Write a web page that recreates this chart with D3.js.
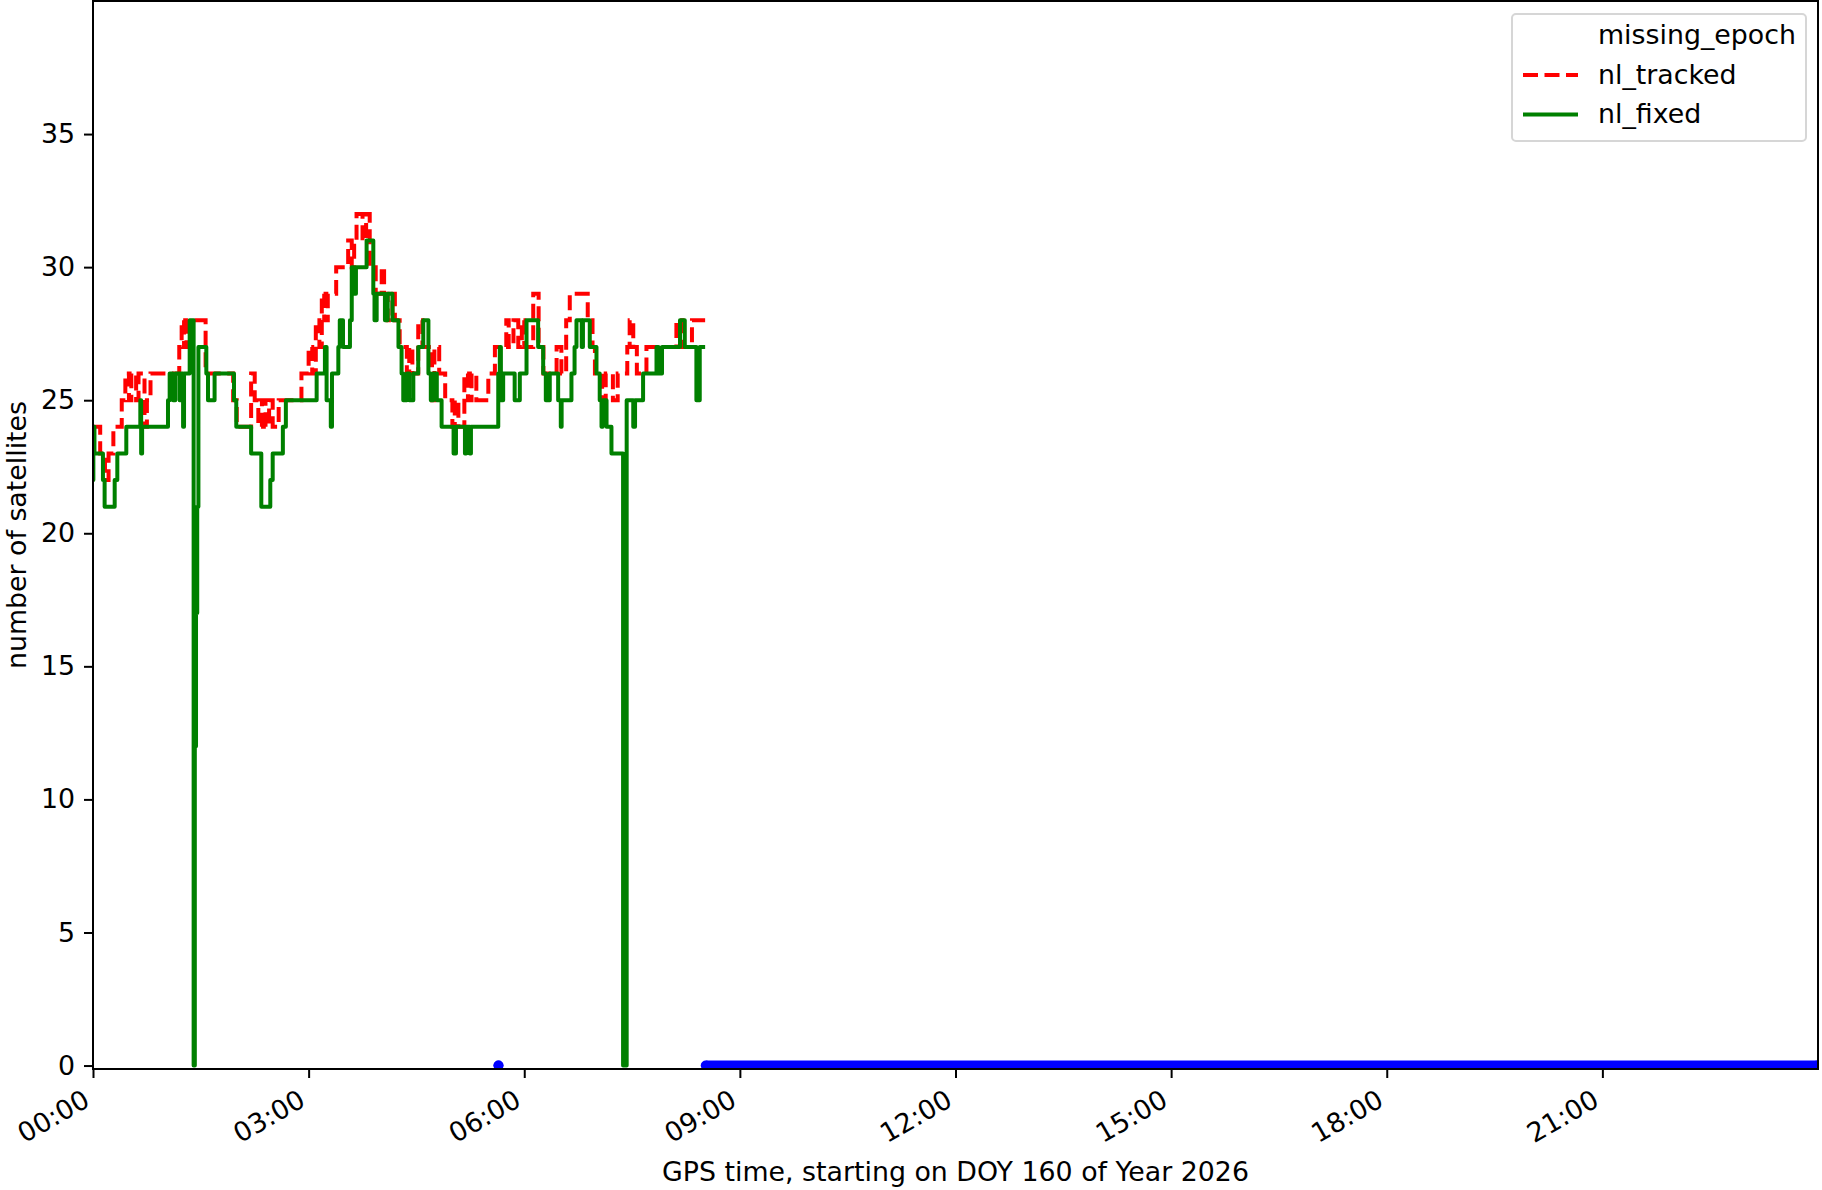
<!DOCTYPE html>
<html>
<head>
<meta charset="utf-8">
<script src="https://cdn.jsdelivr.net/npm/d3@7"></script>
<style>
  body { margin: 0; background: #fff; }
  text { font-family: "DejaVu Sans", sans-serif; }
</style>
</head>
<body>
<div id="chart"></div>
<script>
// GPS time in minutes after 00:00, DOY 160 of 2026 (step data, value holds until next point)
const trackedMin = [0, 6, 10, 13, 17, 24, 27, 30, 32, 36, 38, 43, 45, 48, 72, 74, 76, 78, 94, 117, 120, 132, 135, 138, 141, 144, 147, 150, 155,
  174, 180, 183, 186, 189, 191, 193, 196, 203, 213, 216, 218, 220, 225, 228, 231, 236, 241, 243, 246, 250, 252, 256, 262, 264, 266.6,
  271.5, 275, 283, 285, 289, 294, 300, 302, 305, 310, 313, 316, 320, 330, 335.5, 345, 347, 351, 355, 358, 360, 367.5, 372, 376, 387,
  391, 395, 398, 413, 417, 419, 425, 428, 434, 438, 446, 448, 451, 454, 462, 487, 492, 500, 511];
const trackedVal = [24, 23, 22, 23, 24, 25, 26, 25, 26, 25, 26, 24, 25, 26, 27, 28, 27, 28, 26, 25, 24, 26, 25, 24, 25, 24, 25, 24, 25,
  26, 27, 26, 28, 27, 29, 28, 29, 30, 31, 30, 31, 32, 31, 32, 30, 29, 30, 29, 28, 29, 28, 27, 26, 27, 26,
  28, 27, 25, 27, 26, 25, 24, 25, 24, 26, 25, 26, 25, 26, 27, 28, 27, 28, 27, 28, 27, 29, 27, 26, 27,
  26, 28, 29, 28, 27, 26, 25, 26, 25, 26, 27, 28, 27, 26, 27, 28, 27, 28, 28];

const fixedMin = [0, 0.3, 1.2, 8.3, 9.7, 18.1, 20.3, 27.8, 39.5, 40.2, 41, 62.6, 64, 66.8, 68.7, 72.3, 73.7, 75.2, 76, 80.7, 84, 85, 86, 87, 88,
  94.6, 96, 101.5, 117.7, 119.6, 132, 140.5, 148, 150, 158.5, 161, 186.7, 193.6, 195, 198.5, 199.5, 204.8, 206, 208.7, 214.5, 216, 218,
  219.5, 228.4, 234, 235, 236.8, 243.7, 246, 250, 255, 257.6, 259, 262, 264, 267.4, 271.5, 275.7, 280, 282, 284, 287, 291, 301, 303,
  310.5, 311.5, 314.5, 315.5, 338.3, 339.6, 340.5, 342.4, 352, 356.3, 361.9, 371.6, 375.8, 378, 381.3, 388.3, 390.5, 391.2, 399.4, 402,
  403.6, 408, 409, 414.7, 420.3, 423, 424.5, 425.5, 428.7, 432.8, 442.5, 445.5, 451, 452.5, 459.2, 470.4, 472, 475, 490, 494, 503.7, 506.5, 511];
const fixedVal = [22, 24, 23, 22, 21, 22, 23, 24, 25, 23, 24, 25, 26, 25, 26, 25, 26, 24, 26, 28, 0, 12, 17, 21, 27,
  26, 25, 26, 25, 24, 23, 21, 22, 23, 24, 25, 26, 27, 25, 24, 26, 27, 28, 27, 28, 30, 29,
  30, 31, 29, 28, 29, 28, 29, 28, 27, 26, 25, 26, 25, 26, 27, 28, 26, 25, 26, 25, 24, 23, 24,
  23, 24, 23, 24, 26, 27, 25, 26, 25, 26, 28, 27, 26, 25, 26, 25, 24, 25, 26, 27,
  28, 27, 28, 27, 26, 25, 24, 25, 24, 23, 0, 25, 24, 25, 26, 27, 26, 27, 28, 27, 25, 27, 27];

// missing epochs (minutes), drawn at 0 satellites
const missingFrom = [338.5, 511.5];
const missingTo = [338.5, 1439.5];

const xTickLabels = ["00:00", "03:00", "06:00", "09:00", "12:00", "15:00", "18:00", "21:00"];
const yTicks = [0, 5, 10, 15, 20, 25, 30, 35];
const legendLabels = ["missing_epoch", "nl_tracked", "nl_fixed"];

const W = 1822, H = 1190;
const margin = { top: 1, right: 4, bottom: 121, left: 93 };
const width = W - margin.left - margin.right;
const height = H - margin.top - margin.bottom;
const fontSize = 26.8;
const tickLen = 9;

const day0 = Date.UTC(2026, 5, 9);   // DOY 160 of 2026
const toDate = m => new Date(day0 + m * 60000);
const hm = s => { const [h, m] = s.split(':').map(Number); return h * 60 + m; };

const svg = d3.select('#chart').append('svg')
  .attr('width', W).attr('height', H);

const g = svg.append('g')
  .attr('transform', `translate(${margin.left},${margin.top})`);

const x = d3.scaleUtc()
  .domain([toDate(0), toDate(1440)])
  .range([0, width]);

const y = d3.scaleLinear()
  .domain([-0.13, 40])
  .range([height, 0]);

g.append('clipPath').attr('id', 'clip')
  .append('rect').attr('width', width).attr('height', height);

const plot = g.append('g').attr('clip-path', 'url(#clip)');

// missing epochs
const r = 5;
plot.selectAll('.miss-line')
  .data(missingFrom.map((f, i) => ({ f, t: missingTo[i] })))
  .enter().append('line')
  .attr('x1', d => x(toDate(d.f)))
  .attr('x2', d => x(toDate(d.t)))
  .attr('y1', y(0)).attr('y2', y(0))
  .attr('stroke', '#0000ff')
  .attr('stroke-width', 2 * r);
plot.selectAll('.miss-dot')
  .data(missingFrom.concat(missingTo))
  .enter().append('circle')
  .attr('cx', d => x(toDate(d)))
  .attr('cy', y(0))
  .attr('r', r)
  .attr('fill', '#0000ff');

const line = d3.line()
  .x(d => x(toDate(d.t)))
  .y(d => y(d.v))
  .curve(d3.curveStepAfter);

const tracked = trackedMin.map((t, i) => ({ t, v: trackedVal[i] }));
const fixed = fixedMin.map((t, i) => ({ t, v: fixedVal[i] }));

plot.append('path')
  .datum(tracked)
  .attr('d', line)
  .attr('fill', 'none')
  .attr('stroke', '#ff0000')
  .attr('stroke-width', 4)
  .attr('stroke-dasharray', '15,6.5');

plot.append('path')
  .datum(fixed)
  .attr('d', line)
  .attr('fill', 'none')
  .attr('stroke', '#008000')
  .attr('stroke-width', 4)
  .attr('stroke-linejoin', 'round');

// axes
const xAxis = g.append('g')
  .attr('transform', `translate(0,${height})`)
  .call(d3.axisBottom(x)
    .tickValues(xTickLabels.map(s => toDate(hm(s))))
    .tickFormat(d3.utcFormat('%H:%M'))
    .tickSize(tickLen).tickSizeOuter(0));
xAxis.selectAll('text')
  .attr('x', null).attr('y', null).attr('dy', null)
  .attr('text-anchor', 'end')
  .attr('transform', 'translate(-2,36) rotate(-30)')
  .style('font-size', fontSize + 'px')
  .style('fill', '#000');

const yAxis = g.append('g')
  .call(d3.axisLeft(y).tickValues(yTicks).tickSize(tickLen).tickPadding(9).tickSizeOuter(0));
yAxis.selectAll('text')
  .style('font-size', fontSize + 'px')
  .style('fill', '#000');

g.selectAll('.domain').remove();
g.selectAll('.tick line').attr('stroke', '#000').attr('stroke-width', 2);

// frame
g.append('rect')
  .attr('width', width).attr('height', height)
  .attr('fill', 'none')
  .attr('stroke', '#000')
  .attr('stroke-width', 2);

// axis labels
g.append('text')
  .attr('x', width / 2)
  .attr('y', height + 112)
  .attr('text-anchor', 'middle')
  .style('font-size', fontSize + 'px')
  .text('GPS time, starting on DOY 160 of Year 2026');

g.append('text')
  .attr('transform', `translate(${-67},${height / 2}) rotate(-90)`)
  .attr('text-anchor', 'middle')
  .style('font-size', fontSize + 'px')
  .text('number of satellites');

// legend
const lg = svg.append('g').attr('transform', 'translate(1512,14)');
lg.append('rect')
  .attr('width', 294).attr('height', 127)
  .attr('rx', 4)
  .attr('fill', 'rgba(255,255,255,0.8)')
  .attr('stroke', '#d6d6d6')
  .attr('stroke-width', 2);

const legendStyles = [
  { stroke: 'none', dash: null },
  { stroke: '#ff0000', dash: '15,6.5' },
  { stroke: '#008000', dash: null }
];
legendLabels.forEach((lab, i) => {
  const cy = 21.5 + i * 39.5;
  lg.append('line')
    .attr('x1', 11).attr('x2', 66)
    .attr('y1', cy).attr('y2', cy)
    .attr('stroke', legendStyles[i].stroke)
    .attr('stroke-width', 4)
    .attr('stroke-dasharray', legendStyles[i].dash);
  lg.append('text')
    .attr('x', 86)
    .attr('y', cy + 8.5)
    .style('font-size', fontSize + 'px')
    .text(lab);
});
</script>
</body>
</html>
